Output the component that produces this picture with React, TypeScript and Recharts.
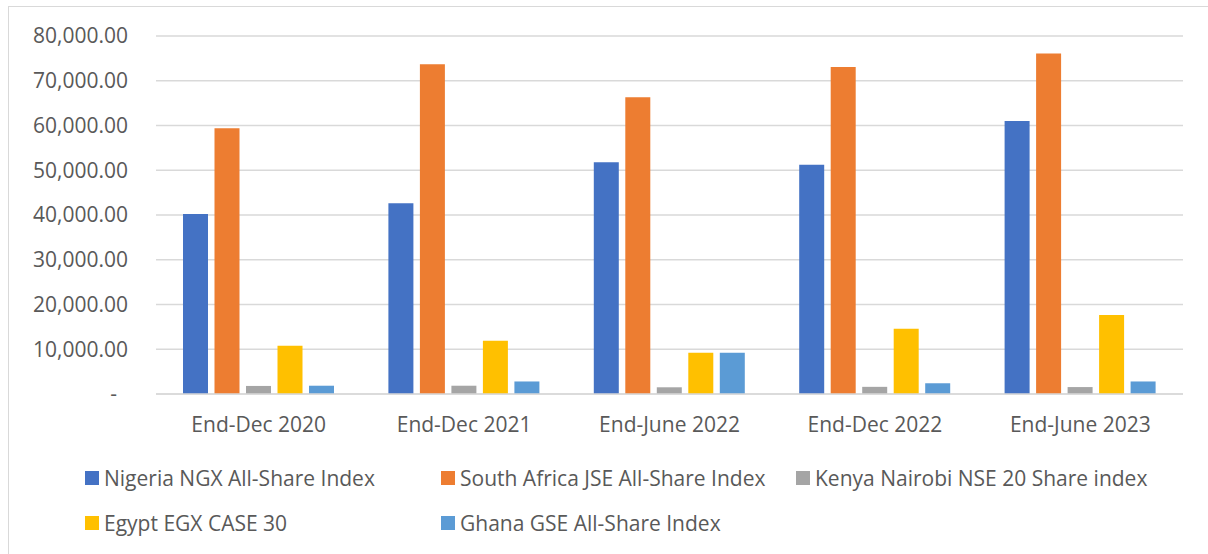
import { BarChart, Bar, XAxis, YAxis, CartesianGrid } from "recharts";

const CATEGORIES = [
  "End-Dec 2020",
  "End-Dec 2021",
  "End-June 2022",
  "End-Dec 2022",
  "End-June 2023",
];

const NIGERIA = [40250, 42650, 51800, 51250, 61000];
const SOUTH_AFRICA = [59400, 73700, 66300, 73050, 76100];
const KENYA = [1800, 1850, 1500, 1600, 1550];
const EGYPT = [10800, 11900, 9200, 14600, 17650];
const GHANA = [1850, 2800, 9200, 2400, 2800];

const Y_TICKS = [0, 10000, 20000, 30000, 40000, 50000, 60000, 70000, 80000];

const SERIES = [
  { key: "nigeria", name: "Nigeria NGX All-Share Index", color: "#4472C4", values: NIGERIA },
  { key: "southAfrica", name: "South Africa JSE All-Share Index", color: "#ED7D31", values: SOUTH_AFRICA },
  { key: "kenya", name: "Kenya Nairobi NSE 20 Share index", color: "#A5A5A5", values: KENYA },
  { key: "egypt", name: "Egypt EGX CASE 30", color: "#FFC000", values: EGYPT },
  { key: "ghana", name: "Ghana GSE All-Share Index", color: "#5B9BD5", values: GHANA },
];

const data = CATEGORIES.map((label, i) => {
  const row: Record<string, string | number> = { label };
  SERIES.forEach((s) => {
    row[s.key] = s.values[i];
  });
  return row;
});

const FONT = '"Open Sans", sans-serif';
const TEXT = "#595959";
const GRID = "#d9d9d9";
const FONT_SIZE = 21;

// legend is laid out like Excel's: three fixed columns, wraps to a second row
const LEGEND_COLS = [85, 441, 796];
const LEGEND_ROWS = [478, 523];

const fmt = (v: number) =>
  v.toLocaleString("en-US", { minimumFractionDigits: 2, maximumFractionDigits: 2 });

function YTick(props: any) {
  const { x, y, payload } = props;
  const isZero = payload.value === 0;
  return (
    <text
      x={isZero ? x - 11 : x}
      y={y}
      dy="0.35em"
      textAnchor="end"
      fill={TEXT}
      fontSize={FONT_SIZE}
      fontFamily={FONT}
    >
      {isZero ? "-" : fmt(payload.value)}
    </text>
  );
}

function ChartLegend() {
  return (
    <>
      {SERIES.map((s, i) => (
        <div
          key={s.key}
          style={{
            position: "absolute",
            left: LEGEND_COLS[i % 3],
            top: LEGEND_ROWS[Math.floor(i / 3)] - 15,
            height: 30,
            display: "flex",
            alignItems: "center",
            whiteSpace: "nowrap",
            fontFamily: FONT,
            fontSize: FONT_SIZE,
            color: TEXT,
          }}
        >
          <span
            style={{ width: 14, height: 14, background: s.color, marginRight: 5, display: "inline-block" }}
          />
          {s.name}
        </div>
      ))}
    </>
  );
}

export default function App() {
  return (
    <div
      style={{
        position: "absolute",
        left: 0,
        top: 0,
        width: 1208,
        height: 554,
        background: "#fff",
        overflow: "hidden",
      }}
    >
      <div
        style={{
          position: "absolute",
          left: 8,
          top: 6,
          width: 1300,
          height: 700,
          borderTop: `1.5px solid ${GRID}`,
          borderLeft: `1.5px solid ${GRID}`,
        }}
      />
      <div style={{ position: "absolute", left: 0, top: 0 }}>
        {/* x axis height (30) is added on top of the bottom margin, so 130 + 30 puts zero at y≈394 */}
        <BarChart
          width={1208}
          height={554}
          data={data}
          margin={{ top: 36, right: 25, left: 8, bottom: 130 }}
          barCategoryGap={27}
          barGap={6.5}
        >
          <CartesianGrid vertical={false} stroke={GRID} strokeWidth={1.3} />
          <XAxis
            dataKey="label"
            axisLine={{ stroke: GRID, strokeWidth: 1.3 }}
            tickLine={false}
            tickSize={0}
            tickMargin={23}
            tick={{ fill: TEXT, fontSize: FONT_SIZE, fontFamily: FONT }}
          />
          <YAxis
            width={148}
            domain={[0, 80000]}
            ticks={Y_TICKS}
            axisLine={false}
            tickLine={false}
            tickSize={0}
            tickMargin={28}
            tick={<YTick />}
          />
          {SERIES.map((s) => (
            <Bar key={s.key} dataKey={s.key} name={s.name} fill={s.color} isAnimationActive={false} />
          ))}
        </BarChart>
      </div>
      <ChartLegend />
    </div>
  );
}
